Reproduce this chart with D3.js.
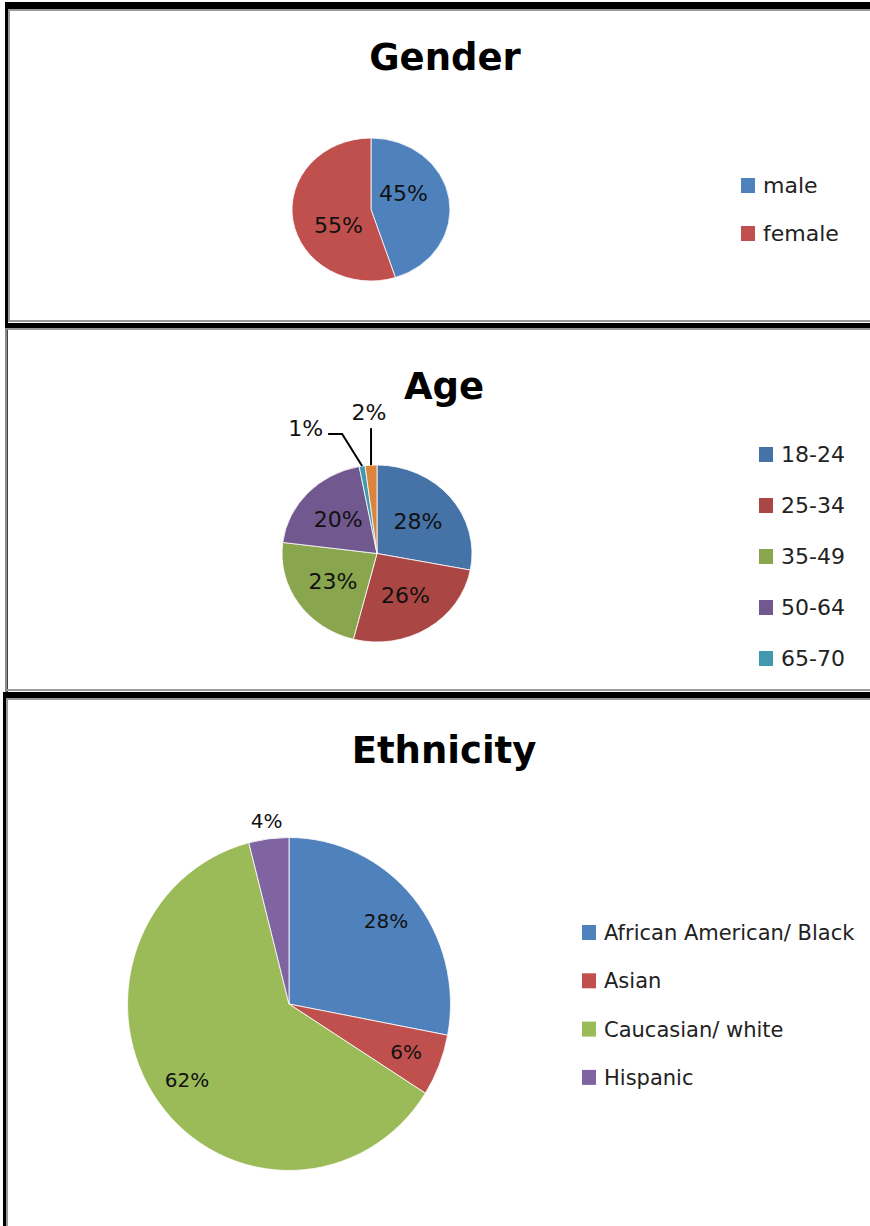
<!DOCTYPE html>
<html>
<head>
<meta charset="utf-8">
<script src="https://cdn.jsdelivr.net/npm/d3@7"></script>
<style>
  html, body { margin: 0; padding: 0; background: #fff; }
  svg { display: block; }
  text { font-family: "DejaVu Sans", sans-serif; }
</style>
</head>
<body>
<svg id="chart" width="870" height="1226"></svg>
<script>
// ---- data ----
const genderCategories = ["male", "female"];
const genderValues = [45, 55];

const ageCategories = ["18-24", "25-34", "35-49", "50-64", "65-70", "71+"];
const ageValues = [28, 26, 23, 20, 1, 2];

const ethnicityCategories = ["African American/ Black", "Asian", "Caucasian/ white", "Hispanic"];
const ethnicityValues = [28, 6, 62, 4];

// ---- palettes ----
const officePalette = ["#4F81BD", "#C0504D", "#9BBB59", "#8064A2"];
const agePalette = ["#4572A7", "#AA4643", "#89A54E", "#71588F", "#4198AF", "#DB843D"];

const svg = d3.select("#chart");

// ---- panel frames ----
const frames = svg.append("g").attr("class", "frames");
function band(x, y, w, h, fill) {
  frames.append("rect").attr("x", x).attr("y", y).attr("width", w).attr("height", h).attr("fill", fill);
}
// Gender panel
band(5, 2, 865, 7, "#000");
band(5, 2, 3, 326, "#000");
band(8, 9, 862, 2, "#9a9a9a");
band(8, 9, 2, 313, "#9a9a9a");
band(8, 320, 862, 2, "#9a9a9a");
band(5, 323, 865, 5, "#000");
// Age panel
band(5, 328, 865, 2, "#9a9a9a");
band(5, 328, 2, 364, "#8a8a8a");
band(7, 330, 1, 362, "#444");
band(7, 689, 863, 2, "#9a9a9a");
// Ethnicity panel
band(3, 692, 867, 6, "#000");
band(3, 692, 3, 534, "#000");
band(6, 698, 864, 2, "#9a9a9a");
band(6, 698, 2, 528, "#9a9a9a");

// ---- pie drawing ----
function drawPie(cfg) {
  const g = svg.append("g");
  const total = d3.sum(cfg.values);
  const data = cfg.categories.map((c, i) => ({ name: c, value: cfg.values[i], color: cfg.colors[i] }));
  const pie = d3.pie().value(d => d.value).sort(null).startAngle(0).endAngle(2 * Math.PI);
  const arcs = pie(data);
  const arc = d3.arc().innerRadius(0).outerRadius(cfg.rx);

  // title
  g.append("text")
    .attr("x", cfg.titleX).attr("y", cfg.titleY)
    .attr("text-anchor", "middle")
    .attr("font-weight", "bold")
    .attr("font-size", 37)
    .attr("fill", "#000")
    .text(cfg.title);

  // slices (circle squeezed into an ellipse)
  const slices = g.append("g")
    .attr("transform", `translate(${cfg.cx},${cfg.cy}) scale(1,${cfg.ry / cfg.rx})`);
  slices.selectAll("path").data(arcs).join("path")
    .attr("d", arc)
    .attr("fill", d => d.data.color)
    .attr("stroke", "#fff")
    .attr("stroke-width", 0.8)
    .attr("vector-effect", "non-scaling-stroke");

  const point = (a, rho) => [cfg.cx + cfg.rx * rho * Math.sin(a), cfg.cy - cfg.ry * rho * Math.cos(a)];
  const pct = d => `${Math.round(d.data.value / total * 100)}%`;

  arcs.forEach(d => {
    const mid = (d.startAngle + d.endAngle) / 2;
    const share = d.data.value / total * 100;
    if (share >= 5) {
      const [x, y] = point(mid + cfg.labelTurn, cfg.labelRadius);
      g.append("text").attr("x", x).attr("y", y)
        .attr("text-anchor", "middle").attr("dominant-baseline", "central")
        .attr("font-size", cfg.labelSize).attr("fill", "#111")
        .text(pct(d));
    } else if (cfg.smallMode === "outside") {
      const [x, y] = point(mid, cfg.outsideRadius);
      g.append("text").attr("x", x).attr("y", y)
        .attr("text-anchor", "middle").attr("dominant-baseline", "central")
        .attr("font-size", cfg.labelSize).attr("fill", "#111")
        .text(pct(d));
    } else {
      // leader line labels for thin slices
      const [sx, sy] = point(mid, 1.0);
      const lead = cfg.leaders[d.index];
      const pts = [[sx, sy]].concat(lead.path.map(([dx, dy]) => [sx + dx, sy + dy]));
      g.append("path")
        .attr("d", d3.line()(pts))
        .attr("fill", "none").attr("stroke", "#000").attr("stroke-width", 2);
      const end = pts[pts.length - 1];
      g.append("text")
        .attr("x", end[0] + lead.text[0]).attr("y", end[1] + lead.text[1])
        .attr("text-anchor", lead.anchor).attr("dominant-baseline", "central")
        .attr("font-size", cfg.labelSize).attr("fill", "#111")
        .text(pct(d));
    }
  });

  // legend (only rows that fit inside the panel)
  const leg = g.append("g");
  data.forEach((d, i) => {
    const base = cfg.legendY + i * cfg.legendStep;
    if (base > cfg.panelBottom) return;
    leg.append("rect")
      .attr("x", cfg.legendX).attr("y", base - 15)
      .attr("width", 14).attr("height", 15)
      .attr("fill", d.color);
    leg.append("text")
      .attr("x", cfg.legendX + 22).attr("y", base)
      .attr("font-size", cfg.legendSize).attr("fill", "#222")
      .text(d.name);
  });
}

drawPie({
  title: "Gender", titleX: 445, titleY: 70,
  categories: genderCategories, values: genderValues, colors: officePalette,
  cx: 371, cy: 209.5, rx: 79, ry: 71.5,
  labelRadius: 0.47, labelTurn: -20 * Math.PI / 180, labelSize: 22,
  legendX: 741, legendY: 193, legendStep: 48, legendSize: 22, panelBottom: 320
});

drawPie({
  title: "Age", titleX: 444, titleY: 399,
  categories: ageCategories, values: ageValues, colors: agePalette,
  cx: 377, cy: 553.5, rx: 95, ry: 88.5,
  labelRadius: 0.56, labelTurn: 0, labelSize: 22,
  smallMode: "leader",
  leaders: {
    4: { path: [[-20, -32], [-34, -32]], text: [-5, -6], anchor: "end" },
    5: { path: [[0, -37]], text: [-2, -16], anchor: "middle" }
  },
  legendX: 759, legendY: 462, legendStep: 51, legendSize: 22, panelBottom: 686
});

drawPie({
  title: "Ethnicity", titleX: 444, titleY: 763,
  categories: ethnicityCategories, values: ethnicityValues, colors: officePalette,
  cx: 289, cy: 1004, rx: 161.5, ry: 166.5,
  labelRadius: 0.78, labelTurn: 0, labelSize: 20,
  smallMode: "outside", outsideRadius: 1.11,
  legendX: 582, legendY: 940, legendStep: 48.3, legendSize: 21, panelBottom: 1220
});
</script>
</body>
</html>
